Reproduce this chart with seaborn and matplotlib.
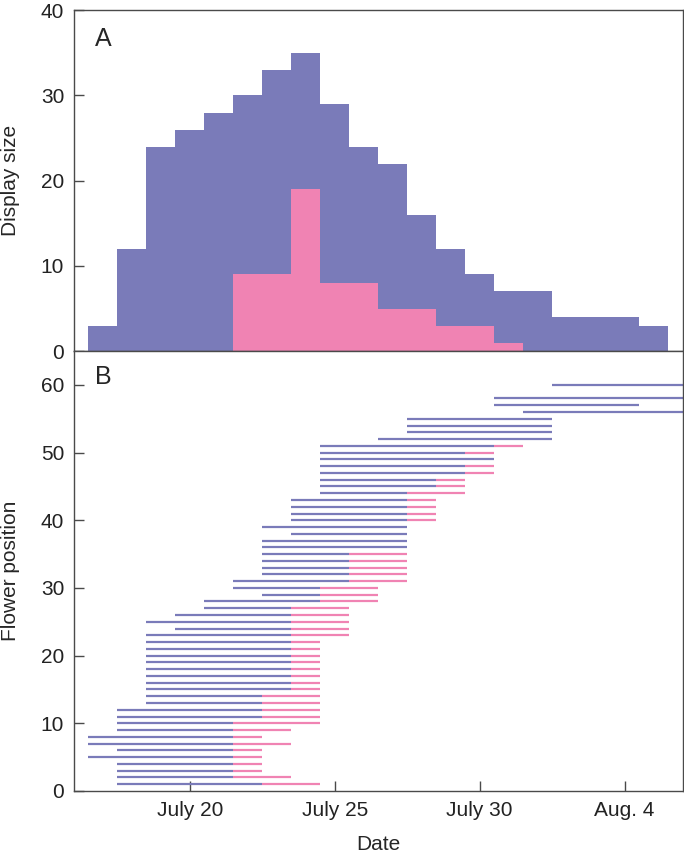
import numpy as np
import pandas as pd
import matplotlib
matplotlib.use("Agg")
import matplotlib.pyplot as plt
import seaborn as sns

# Panel A: display size per day (day of July)
days = [17, 18, 19, 20, 21, 22, 23, 24, 25, 26, 27, 28, 29, 30, 31, 32, 33, 34, 35, 36]
display_total = [3, 12, 24, 26, 28, 30, 33, 35, 29, 24, 22, 16, 12, 9, 7, 7, 4, 4, 4, 3]
display_pink = [0, 0, 0, 0, 0, 9, 9, 19, 8, 8, 5, 5, 3, 3, 1, 0, 0, 0, 0, 0]

# Panel B: flower position, opening date, phase switch, end (day of July)
position = list(range(1, 59)) + [60]
start = [17.5, 17.5, 17.5, 17.5, 16.5, 17.5, 16.5, 16.5, 17.5, 17.5,
         17.5, 17.5, 18.5, 18.5, 18.5, 18.5, 18.5, 18.5, 18.5, 18.5,
         18.5, 18.5, 18.5, 19.5, 18.5, 19.5, 20.5, 20.5, 22.5, 21.5,
         21.5, 22.5, 22.5, 22.5, 22.5, 22.5, 22.5, 23.5, 22.5, 23.5,
         23.5, 23.5, 23.5, 24.5, 24.5, 24.5, 24.5, 24.5, 24.5, 24.5,
         24.5, 26.5, 27.5, 27.5, 27.5, 31.5, 30.5, 30.5, 32.5]
switch = [22.5, 21.5, 21.5, 21.5, 21.5, 21.5, 21.5, 21.5, 21.5, 21.5,
          22.5, 22.5, 22.5, 22.5, 23.5, 23.5, 23.5, 23.5, 23.5, 23.5,
          23.5, 23.5, 23.5, 23.5, 23.5, 23.5, 23.5, 24.5, 24.5, 24.5,
          25.5, 25.5, 25.5, 25.5, 25.5, 27.5, 27.5, 27.5, 27.5, 27.5,
          27.5, 27.5, 27.5, 27.5, 28.5, 28.5, 29.5, 29.5, 30.5, 29.5,
          30.5, 32.5, 32.5, 32.5, 32.5, 37.5, 35.5, 37.5, 37.5]
end = [24.5, 23.5, 22.5, 22.5, 22.5, 22.5, 23.5, 22.5, 23.5, 24.5,
       24.5, 24.5, 24.5, 24.5, 24.5, 24.5, 24.5, 24.5, 24.5, 24.5,
       24.5, 24.5, 25.5, 25.5, 25.5, 25.5, 25.5, 26.5, 26.5, 26.5,
       27.5, 27.5, 27.5, 27.5, 27.5, 27.5, 27.5, 27.5, 27.5, 28.5,
       28.5, 28.5, 28.5, 29.5, 29.5, 29.5, 30.5, 30.5, 30.5, 30.5,
       31.5, 32.5, 32.5, 32.5, 32.5, 37.5, 35.5, 37.5, 37.5]

tick_days = [20, 25, 30, 35]
tick_labels = ["July 20", "July 25", "July 30", "Aug. 4"]

blue = "#7a7bb9"
pink = "#f083b3"
spine_col = "#4a4a4a"

sns.set_style("ticks")
plt.rcParams["font.family"] = ["Liberation Sans", "DejaVu Sans"]
plt.rcParams["axes.edgecolor"] = spine_col
plt.rcParams["xtick.color"] = spine_col
plt.rcParams["ytick.color"] = spine_col
plt.rcParams["xtick.labelcolor"] = "#222222"
plt.rcParams["ytick.labelcolor"] = "#222222"

df = pd.DataFrame({"day": days, "total": display_total, "pink": display_pink})

fig = plt.figure(figsize=(6.84, 8.56), dpi=100)
gs = fig.add_gridspec(2, 1, height_ratios=[341, 440], hspace=0)
fig.subplots_adjust(left=0.108, right=0.998, top=0.988, bottom=0.076)
ax1 = fig.add_subplot(gs[0])
ax2 = fig.add_subplot(gs[1], sharex=ax1)

sns.histplot(data=df, x="day", weights="total", binwidth=1, binrange=(16.5, 36.5),
             element="step", fill=True, color=blue, alpha=1, linewidth=0, ax=ax1)
pdf = df[df["pink"] > 0]
sns.histplot(data=pdf, x="day", weights="pink", binwidth=1, binrange=(21.5, 31.5),
             element="step", fill=True, color=pink, alpha=1, linewidth=0, ax=ax1)

fl = pd.DataFrame({"pos": position, "start": start, "switch": switch, "end": end})
ax2.hlines(fl["pos"], fl["start"], fl["switch"], color=blue, linewidth=1.6)
pk = fl[fl["end"] > fl["switch"]]
ax2.hlines(pk["pos"], pk["switch"], pk["end"], color=pink, linewidth=1.6)

ax1.set_xlim(16, 37)
ax1.set_ylim(0, 40)
ax2.set_ylim(0, 65)
ax1.set_yticks([0, 10, 20, 30, 40])
ax2.set_yticks([0, 10, 20, 30, 40, 50, 60])
ax2.set_xticks(tick_days)
ax2.set_xticklabels(tick_labels)
plt.setp(ax1.get_xticklabels(), visible=False)

for ax in (ax1, ax2):
    for s in ax.spines.values():
        s.set_visible(True)
        s.set_linewidth(1.0)
    ax.tick_params(direction="in", length=7, width=1.0, labelsize=15, pad=7)

ax1.set_xlabel("")
ax1.set_ylabel("Display size", fontsize=15)
ax2.set_ylabel("Flower position", fontsize=15)
ax2.set_xlabel("Date", fontsize=15)
ax1.yaxis.set_label_coords(-0.088, 0.5)
ax2.yaxis.set_label_coords(-0.088, 0.5)
ax2.xaxis.set_label_coords(0.5, -0.1)

ax1.text(0.034, 0.95, "A", transform=ax1.transAxes, fontsize=18, va="top", ha="left")
ax2.text(0.034, 0.968, "B", transform=ax2.transAxes, fontsize=18, va="top", ha="left")

fig.savefig("out.png", dpi=100)
